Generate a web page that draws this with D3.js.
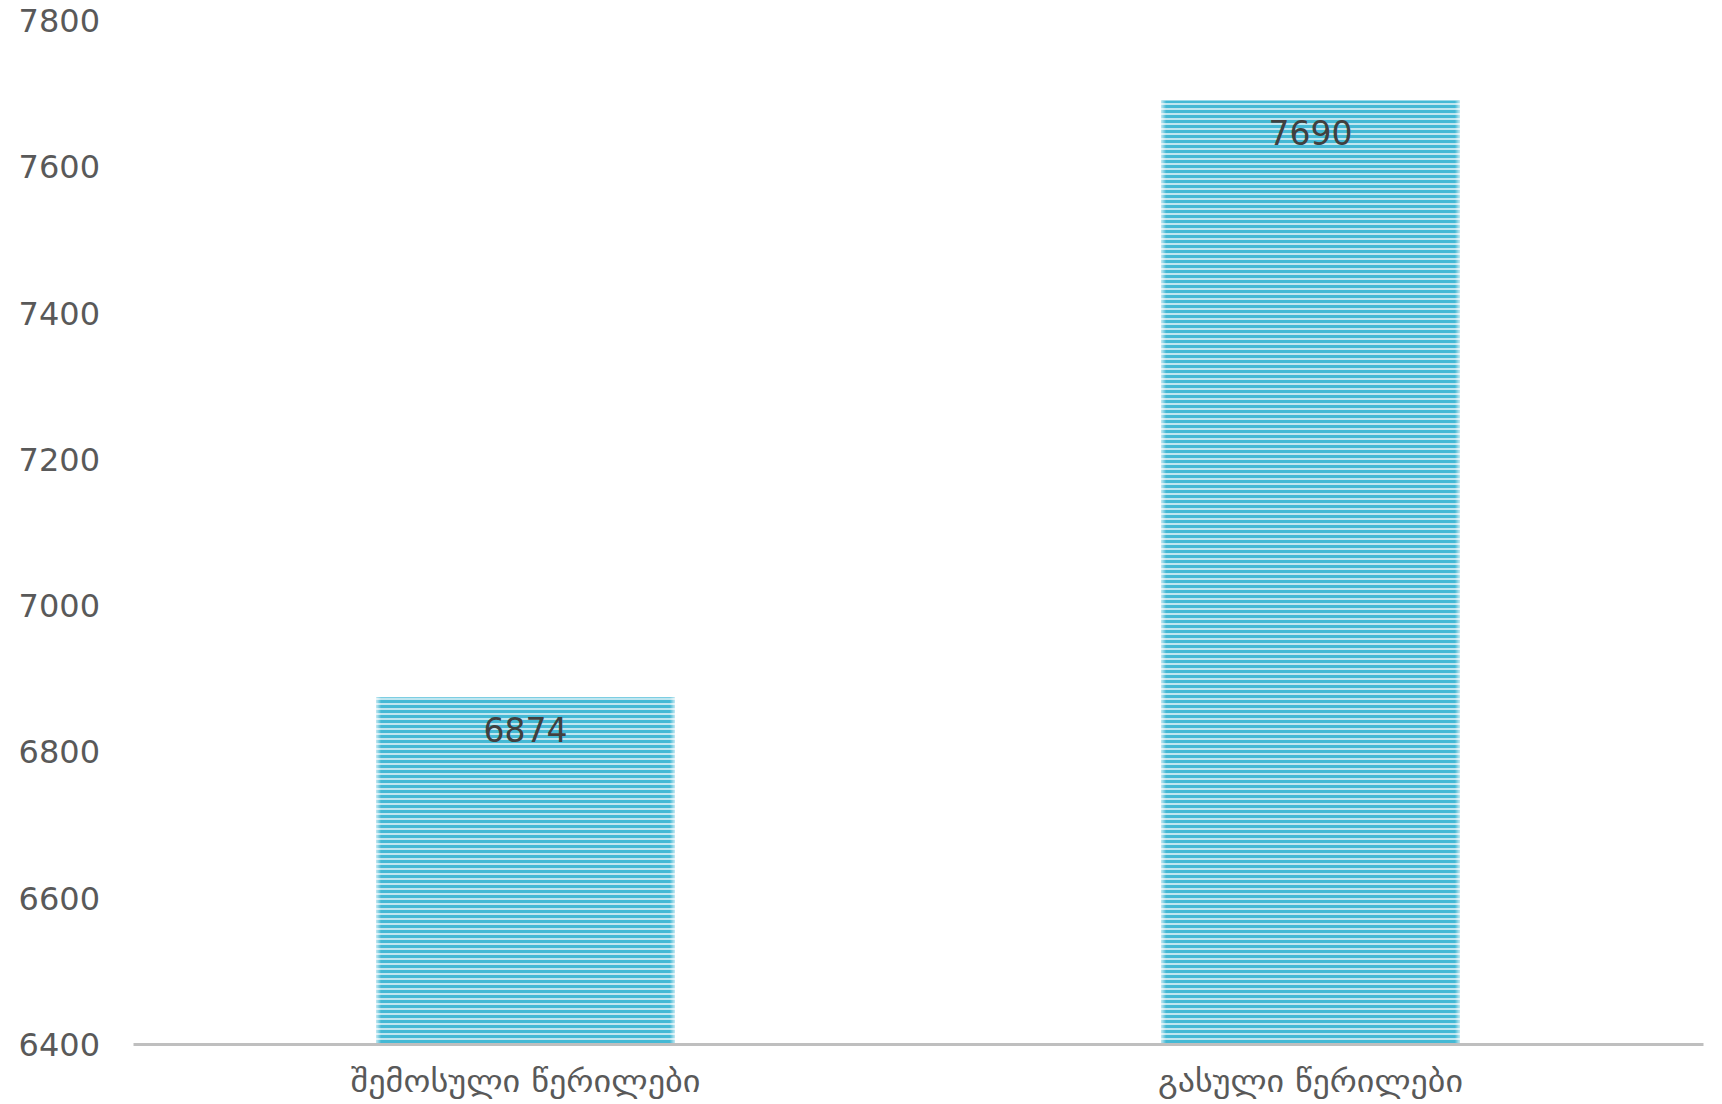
<!DOCTYPE html>
<html>
<head>
<meta charset="utf-8">
<script src="https://cdn.jsdelivr.net/npm/d3@7"></script>
<style>
  html, body { margin: 0; padding: 0; background: #ffffff; }
  svg { display: block; }
</style>
</head>
<body>
<svg id="chart" width="1722" height="1104"></svg>
<script>
const categories = ["შემოსული წერილები", "გასული წერილები"];
const values = [6874, 7690];
const yTicks = [6400, 6600, 6800, 7000, 7200, 7400, 7600, 7800];

const W = 1722, H = 1104;
const plot = { left: 133, right: 1703, top: 20, bottom: 1044 };

const svg = d3.select("#chart");
const defs = svg.append("defs");

const pat = defs.append("pattern")
  .attr("id", "stripes")
  .attr("patternUnits", "userSpaceOnUse")
  .attr("width", 10).attr("height", 5);
pat.append("rect").attr("width", 10).attr("height", 5).attr("fill", "#bfe6f0");
pat.append("rect").attr("width", 10).attr("height", 3).attr("fill", "#44b9d5");

const edge = defs.append("linearGradient").attr("id", "edgeGlow")
  .attr("x1", "0").attr("x2", "1").attr("y1", "0").attr("y2", "0");
[[0, 0.65], [0.016, 0], [0.984, 0], [1, 0.65]].forEach(([o, a]) =>
  edge.append("stop").attr("offset", o).attr("stop-color", "#ffffff").attr("stop-opacity", a));

const x = d3.scaleBand().domain(categories).range([plot.left, plot.right]).padding(0);
const y = d3.scaleLinear().domain([6400, 7800]).range([plot.bottom, plot.top]);
const barW = x.bandwidth() * 0.38;

// y axis labels
const yAxis = d3.axisLeft(y).tickValues(yTicks).tickSize(0).tickPadding(0).tickFormat(d3.format("d"));
const yg = svg.append("g").attr("transform", `translate(100,0)`).call(yAxis);
yg.select(".domain").remove();
yg.selectAll("text")
  .attr("font-family", "DejaVu Sans")
  .attr("font-size", 32)
  .attr("fill", "#595959")
  .attr("dy", "0.36em");

// bars
const bars = svg.append("g");
bars.selectAll("rect.bar").data(values).join("rect")
  .attr("class", "bar")
  .attr("x", (d, i) => x(categories[i]) + (x.bandwidth() - barW) / 2)
  .attr("width", barW)
  .attr("y", d => y(d))
  .attr("height", d => y(6400) - y(d))
  .attr("fill", "url(#stripes)");
bars.selectAll("rect.glow").data(values).join("rect")
  .attr("class", "glow")
  .attr("x", (d, i) => x(categories[i]) + (x.bandwidth() - barW) / 2)
  .attr("width", barW)
  .attr("y", d => y(d))
  .attr("height", d => y(6400) - y(d))
  .attr("fill", "url(#edgeGlow)");

// value labels
svg.append("g").selectAll("text").data(values).join("text")
  .attr("x", (d, i) => x(categories[i]) + x.bandwidth() / 2)
  .attr("y", d => y(d) + 45)
  .attr("text-anchor", "middle")
  .attr("font-family", "DejaVu Sans")
  .attr("font-size", 33)
  .attr("fill", "#404040")
  .text(d => d);

// x axis
const xAxis = d3.axisBottom(x).tickSize(0).tickPadding(0);
const xg = svg.append("g").attr("transform", `translate(0,${plot.bottom})`).call(xAxis);
xg.select(".domain").attr("stroke", "#bfbfbf").attr("stroke-width", 3);
xg.selectAll("text")
  .attr("font-family", "DejaVu Sans")
  .attr("font-size", 30)
  .attr("fill", "#595959")
  .attr("dy", 0)
  .attr("y", 48)
  .attr("textLength", (d, i) => i === 0 ? 350 : 305)
  .attr("lengthAdjust", "spacingAndGlyphs");
</script>
</body>
</html>
